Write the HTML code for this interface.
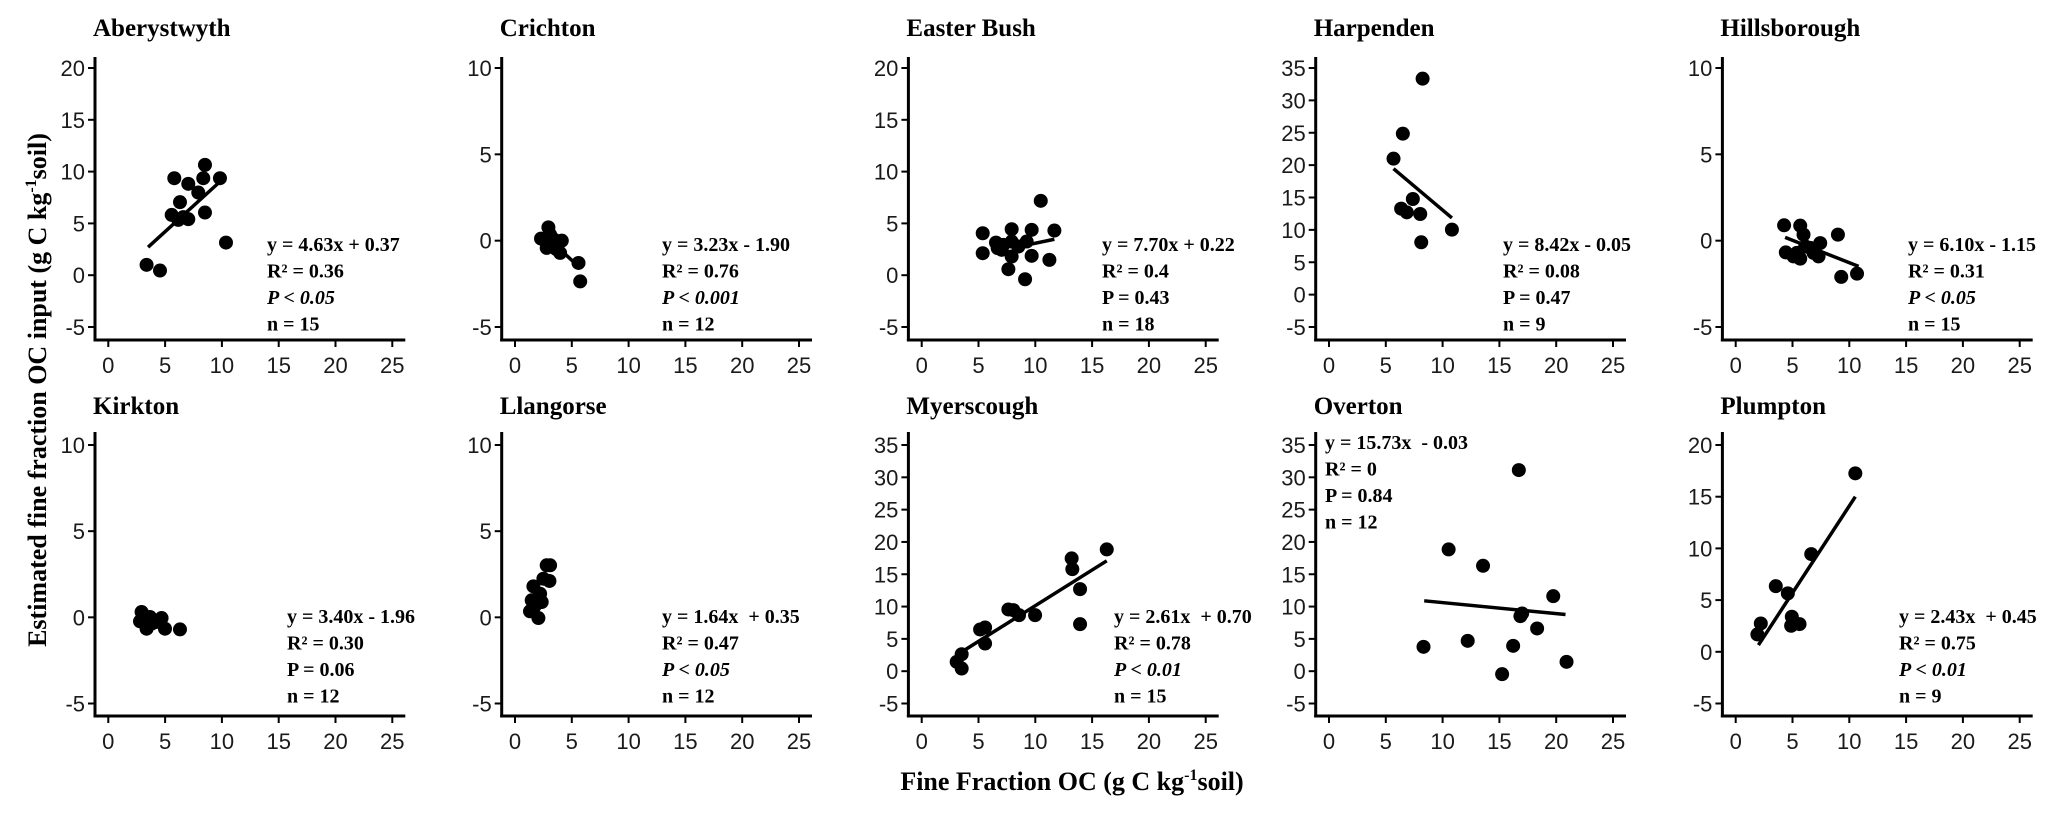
<!DOCTYPE html>
<html><head><meta charset="utf-8">
<style>
html,body{margin:0;padding:0;background:#fff;}
svg{display:block;}
.tick{font-family:"Liberation Sans",Arial,sans-serif;font-size:22px;fill:#1a1a1a;}
.title{font-family:"Liberation Serif",serif;font-size:25px;font-weight:bold;fill:#000;}
.ann{font-family:"Liberation Serif",serif;font-size:20px;font-weight:bold;fill:#000;white-space:pre;}
.axt{font-family:"Liberation Serif",serif;font-size:26px;font-weight:bold;fill:#000;}
</style></head>
<body>
<svg id="chart" width="2067" height="813" viewBox="0 0 2067 813" xmlns="http://www.w3.org/2000/svg">
<text class="axt" x="1072" y="790" text-anchor="middle">Fine Fraction OC (g C kg<tspan dy="-10" font-size="16">-1</tspan><tspan dy="10">soil)</tspan></text>
<text class="axt" transform="translate(46,390) rotate(-90)" text-anchor="middle">Estimated fine fraction OC input (g C kg<tspan dy="-10" font-size="16">-1</tspan><tspan dy="10">soil)</tspan></text>
</svg>
<script>
const xTicks=[0,5,10,15,20,25];
const aberX=[3.37,4.55,5.81,5.58,6.31,7.04,6.16,7.04,7.92,8.36,8.51,8.51,9.83,10.36,6.6];
const aberY=[1.0,0.45,9.36,5.82,7.05,8.82,5.34,5.41,7.98,9.36,10.65,6.05,9.36,3.15,5.6];
const aberLine=[[3.5,2.7],[9.7,8.9]];
const cricX=[2.29,2.94,3.09,3.24,3.44,3.62,4.12,3.97,5.59,5.74,2.79,3.68];
const cricY=[0.12,0.77,0.35,-0.33,0.06,-0.48,0,-0.71,-1.29,-2.36,-0.42,-0.23];
const cricLine=[[2.8,0.2],[5.6,-1.5]];
const eastX=[5.37,5.37,6.54,6.69,7.19,7.63,7.92,7.92,7.92,9.10,9.24,9.68,9.68,10.48,11.24,11.68,7.04,8.51];
const eastY=[4.05,2.12,3.15,2.61,2.93,0.58,4.44,3.25,1.80,-0.39,3.25,4.38,1.87,7.18,1.48,4.31,2.45,2.77];
const eastLine=[[7.92,2.61],[11.68,3.47]];
const harpX=[8.24,6.50,5.68,7.38,6.35,6.85,8.03,10.82,8.12];
const harpY=[33.35,24.86,21.0,14.77,13.28,12.71,12.45,10.04,8.08];
const harpLine=[[5.68,19.45],[10.82,11.84]];
const hillX=[4.26,5.68,5.97,9.0,4.41,5.09,5.68,6.12,6.85,7.44,7.29,9.29,10.68,6.56,5.38];
const hillY=[0.89,0.87,0.35,0.35,-0.68,-0.91,-1.04,-0.33,-0.71,-0.14,-0.91,-2.10,-1.91,-0.42,-0.71];
const hillLine=[[4.35,0.19],[10.82,-1.49]];
const kirkX=[2.93,2.79,3.32,3.37,3.67,4.02,4.69,4.99,6.31,3.08,3.81,4.25];
const kirkY=[0.31,-0.23,-0.17,-0.66,0.02,-0.17,-0.04,-0.66,-0.70,0.02,-0.37,-0.27];
const llanX=[1.32,1.62,1.47,1.68,2.06,2.35,2.50,2.79,3.03,3.09,1.91,2.21];
const llanY=[0.35,1.80,0.99,0.60,-0.04,0.89,2.24,3.02,2.11,3.02,0.79,1.37];
const myerX=[3.08,3.52,3.52,5.14,5.58,5.58,7.63,8.07,8.57,9.98,13.2,13.26,13.94,13.94,16.29];
const myerY=[1.45,0.41,2.63,6.45,6.76,4.28,9.55,9.45,8.67,8.67,17.45,15.79,12.7,7.28,18.84];
const myerLine=[[3.67,3.15],[16.29,17.08]];
const overX=[8.32,10.53,12.21,13.56,15.24,16.21,16.71,17.0,16.85,18.32,19.74,20.91];
const overY=[3.77,18.84,4.70,16.31,-0.46,3.92,31.12,8.93,8.52,6.61,11.61,1.45];
const overLine=[[8.38,10.89],[20.82,8.77]];
const plumX=[1.91,2.21,3.53,4.59,4.94,4.88,5.62,6.65,10.53];
const plumY=[1.68,2.74,6.35,5.65,3.39,2.52,2.68,9.45,17.26];
const plumLine=[[2.0,0.65],[10.53,15.0]];

const NS="http://www.w3.org/2000/svg";
const svg=document.getElementById('chart');
const colX0=[108.3,515,921.7,1329,1735.7];
const rows=[{axTop:57,yTopPx:68,yBotPx:327,xAxisY:340,ann:251,titleY:36},
            {axTop:432,yTopPx:445,yBotPx:703.5,xAxisY:716,ann:623,titleY:414}];
const panels=[
 {name:'Aberystwyth',r:0,c:0,ymax:20,xs:aberX,ys:aberY,line:aberLine,ax:267,ann:['y = 4.63x + 0.37','R² = 0.36','P < 0.05','n = 15'],it:true},
 {name:'Crichton',r:0,c:1,ymax:10,xs:cricX,ys:cricY,line:cricLine,ax:662,ann:['y = 3.23x - 1.90','R² = 0.76','P < 0.001','n = 12'],it:true},
 {name:'Easter Bush',r:0,c:2,ymax:20,xs:eastX,ys:eastY,line:eastLine,ax:1102,ann:['y = 7.70x + 0.22','R² = 0.4','P = 0.43','n = 18'],it:false},
 {name:'Harpenden',r:0,c:3,ymax:35,xs:harpX,ys:harpY,line:harpLine,ax:1503,ann:['y = 8.42x - 0.05','R² = 0.08','P = 0.47','n = 9'],it:false},
 {name:'Hillsborough',r:0,c:4,ymax:10,xs:hillX,ys:hillY,line:hillLine,ax:1908,ann:['y = 6.10x - 1.15','R² = 0.31','P < 0.05','n = 15'],it:true},
 {name:'Kirkton',r:1,c:0,ymax:10,xs:kirkX,ys:kirkY,line:null,ax:287,ann:['y = 3.40x - 1.96','R² = 0.30','P = 0.06','n = 12'],it:false},
 {name:'Llangorse',r:1,c:1,ymax:10,xs:llanX,ys:llanY,line:null,ax:662,ann:['y = 1.64x  + 0.35','R² = 0.47','P < 0.05','n = 12'],it:true},
 {name:'Myerscough',r:1,c:2,ymax:35,xs:myerX,ys:myerY,line:myerLine,ax:1114,ann:['y = 2.61x  + 0.70','R² = 0.78','P < 0.01','n = 15'],it:true},
 {name:'Overton',r:1,c:3,ymax:35,xs:overX,ys:overY,line:overLine,ax:1325,annY:449,ann:['y = 15.73x  - 0.03','R² = 0','P = 0.84','n = 12'],it:false},
 {name:'Plumpton',r:1,c:4,ymax:20,xs:plumX,ys:plumY,line:plumLine,ax:1899,ann:['y = 2.43x  + 0.45','R² = 0.75','P < 0.01','n = 9'],it:true}
];
function mk(tag,attrs,parent){const e=document.createElementNS(NS,tag);for(const k in attrs)e.setAttribute(k,attrs[k]);(parent||svg).appendChild(e);return e;}
panels.forEach(p=>{
  const R=rows[p.r];const x0=colX0[p.c];
  const slug=p.name.toLowerCase().replace(/\s+/g,'-');
  const g=mk('g',{});
  
  
  const sx=v=>x0+v*(284/25);
  const sy=v=>R.yBotPx-(v+5)*(R.yBotPx-R.yTopPx)/(p.ymax+5);
  const axX=x0-13.3;
  const t=mk('text',{class:'title',x:axX-2,y:R.titleY},g);t.textContent=p.name;
  
  
  const ya=mk('line',{x1:axX,y1:R.axTop,x2:axX,y2:R.xAxisY+1.5,stroke:'#000','stroke-width':3},g);
  
  
  const xa=mk('line',{x1:axX-1.5,y1:R.xAxisY,x2:sx(25)+13,y2:R.xAxisY,stroke:'#000','stroke-width':3},g);
  
  
  xTicks.forEach(v=>{
    mk('line',{x1:sx(v),y1:R.xAxisY,x2:sx(v),y2:R.xAxisY+7,stroke:'#000','stroke-width':2},g);
    const l=mk('text',{class:'tick',x:sx(v),y:R.xAxisY+33,'text-anchor':'middle'},g);l.textContent=v;
    
    
  });
  for(let v=-5;v<=p.ymax;v+=5){
    mk('line',{x1:axX-7,y1:sy(v),x2:axX,y2:sy(v),stroke:'#000','stroke-width':2},g);
    const l=mk('text',{class:'tick',x:axX-10,y:sy(v)+8,'text-anchor':'end'},g);l.textContent=v;
    
    
  }
  p.xs.forEach((xv,i)=>{
    const c=mk('circle',{cx:sx(xv),cy:sy(p.ys[i]),r:7,fill:'#000'},g);
    
    
  });
  if(p.line){
    const ln=mk('line',{x1:sx(p.line[0][0]),y1:sy(p.line[0][1]),x2:sx(p.line[1][0]),y2:sy(p.line[1][1]),stroke:'#000','stroke-width':3.5},g);
    
    
  }
  const ay=p.annY||R.ann;
  p.ann.forEach((s,i)=>{
    const a=mk('text',{class:'ann',x:p.ax,y:ay+i*26.5},g);
    if(i===2&&p.it)a.setAttribute('font-style','italic');
    a.textContent=s;
    
    
  });
});
</script>
</body></html>
